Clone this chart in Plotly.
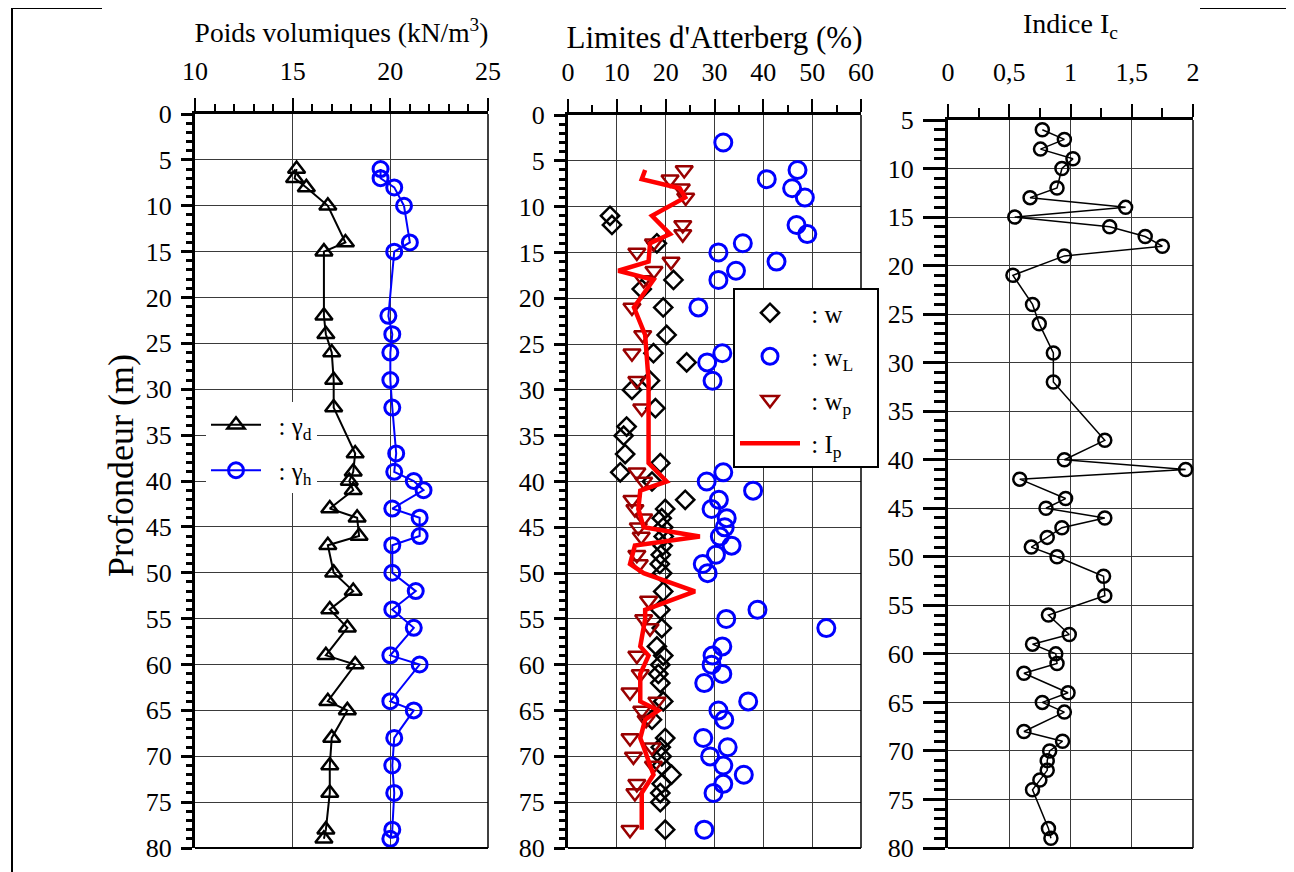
import plotly.graph_objects as go

# ---------------- data ----------------
gamma_depth = [6, 7, 8, 10, 14, 15, 22, 24, 26, 29, 32, 37, 39, 40, 41, 43, 44, 46, 47, 50,
               52, 54, 56, 59, 60, 64, 65, 68, 71, 74, 78, 79]
gamma_d = [15.2, 15.1, 15.7, 16.8, 17.7, 16.6, 16.6, 16.7, 17.0, 17.1, 17.1, 18.2, 18.1, 17.9,
           18.1, 16.9, 18.3, 18.4, 16.8, 17.1, 18.1, 16.9, 17.8, 16.7, 18.2, 16.8, 17.8, 17.0,
           16.9, 16.9, 16.7, 16.6]
gamma_h = [19.5, 19.5, 20.2, 20.7, 21.0, 20.2, 19.9, 20.1, 20.0, 20.0, 20.1, 20.3, 20.2, 21.2,
           21.7, 20.1, 21.5, 21.5, 20.1, 20.1, 21.3, 20.1, 21.2, 20.0, 21.5, 20.0, 21.2, 20.2,
           20.1, 20.2, 20.1, 20.0]

w_depth = [11, 12, 14, 18, 19, 21, 24, 26, 27, 29, 30, 32, 34, 35, 37, 38, 39, 40, 42, 43,
           44, 45, 46, 47, 48, 49, 50, 52, 54, 56, 58, 59, 60, 61, 62, 64, 66, 68, 69, 70,
           71, 72, 73, 74, 75, 78]
w = [8.6, 9.0, 18.2, 21.6, 15.1, 19.5, 20.2, 17.5, 24.3, 16.8, 13.1, 17.9, 12.0, 11.4, 11.7,
     18.9, 10.7, 17.2, 24.0, 19.9, 19.2, 19.5, 19.6, 19.4, 19.0, 18.8, 19.3, 19.5, 18.9, 19.2,
     18.2, 19.5, 18.9, 18.5, 18.9, 19.5, 17.2, 19.9, 19.0, 19.2, 19.2, 21.2, 19.2, 18.9, 18.9,
     19.9]

wL_depth = [3, 6, 7, 8, 9, 12, 13, 14, 15, 16, 17, 18, 21, 26, 27, 29, 39, 40, 41, 42,
            43, 44, 45, 46, 47, 48, 49, 50, 54, 55, 56, 58, 59, 60, 61, 62, 64, 65, 66, 68,
            69, 70, 71, 72, 73, 74, 78]
wL = [31.8, 47.0, 40.7, 45.9, 48.5, 46.8, 49.0, 35.8, 30.8, 42.7, 34.4, 30.8, 26.7, 31.6, 28.5,
      29.6, 31.8, 28.4, 37.9, 30.9, 29.4, 32.5, 32.1, 31.1, 33.5, 30.3, 27.6, 28.6, 38.8, 32.4,
      52.9, 31.6, 29.6, 29.4, 31.6, 27.9, 36.9, 30.8, 32.0, 27.7, 32.7, 29.1, 31.8, 36.0, 31.8,
      29.8, 27.9]

wp_depth = [6, 7, 8, 9, 12, 13, 14, 15, 16, 17, 18, 21, 24, 26, 29, 32, 39, 40, 42, 43,
            44, 45, 46, 48, 49, 53, 55, 56, 59, 61, 63, 64, 65, 66, 68, 69, 70, 71, 73, 74, 78]
wp = [23.8, 20.9, 23.2, 24.1, 23.5, 23.5, 17.5, 14.1, 21.1, 17.6, 15.5, 13.1, 15.3, 13.1, 14.1,
      15.1, 14.1, 15.5, 13.1, 13.7, 15.5, 14.4, 15.0, 14.1, 14.6, 16.5, 15.5, 16.8, 14.1, 14.8,
      12.7, 18.2, 15.1, 16.0, 12.7, 17.2, 13.4, 17.5, 14.1, 13.7, 12.7]

Ip_depth = [6, 7, 8, 9, 11, 13, 14, 16, 17, 18, 21, 24, 29, 38, 40, 41, 43, 45, 46, 47,
            49, 50, 52, 54, 55, 58, 59, 61, 64, 65, 66, 68, 69, 72, 74, 78]
Ip = [15.8, 15.1, 22.9, 24.0, 17.2, 20.9, 16.8, 16.5, 10.3, 17.5, 13.5, 15.8, 16.5, 16.5, 20.2,
      14.8, 14.4, 15.5, 27.0, 13.7, 12.7, 15.5, 26.0, 15.8, 15.8, 14.8, 16.5, 14.8, 14.8, 18.5,
      15.8, 14.8, 15.5, 17.5, 15.1, 15.1]

Ic_depth = [6, 7, 8, 9, 10, 12, 13, 14, 15, 16, 17, 18, 19, 21, 24, 26, 29, 32, 38, 40,
            41, 42, 44, 45, 46, 47, 48, 49, 50, 52, 54, 56, 58, 59, 60, 61, 62, 64, 65, 66,
            68, 69, 70, 71, 72, 73, 74, 78, 79]
Ic = [0.77, 0.95, 0.755, 1.02, 0.93, 0.89, 0.67, 1.45, 0.545, 1.32, 1.61, 1.75, 0.95, 0.53,
      0.69, 0.745, 0.86, 0.86, 1.28, 0.95, 1.94, 0.586, 0.96, 0.80, 1.28, 0.93, 0.81, 0.68,
      0.89, 1.27, 1.28, 0.82, 0.99, 0.69, 0.88, 0.89, 0.62, 0.98, 0.77, 0.95, 0.62, 0.935,
      0.83, 0.81, 0.81, 0.75, 0.69, 0.82, 0.84]

ic_tickvals = [0, 0.5, 1, 1.5, 2]
ic_ticktext = ["0", "0,5", "1", "1,5", "2"]

# ---------------- layout helpers ----------------
W, H = 1294, 872
FONT = "Liberation Serif, Times New Roman, serif"
NB = "\u00a0"

# page offset compensation (body margin of the html page)
OX, OY = 8, 8


def px_x(p):
    return (p - OX) / W


def px_y(p):
    return 1 - (p - OY) / H


fig = go.Figure()

# left panel
fig.add_trace(go.Scatter(x=gamma_d, y=gamma_depth, mode="lines+markers",
                         name=NB * 2 + ": γ<sub>d</sub>",
                         line=dict(color="black", width=2),
                         marker=dict(symbol="triangle-up-open", size=15, color="black",
                                     line=dict(width=2.5)),
                         xaxis="x", yaxis="y", legend="legend", legendgroup="a", cliponaxis=False))
fig.add_trace(go.Scatter(x=gamma_h, y=gamma_depth, mode="lines+markers",
                         name=NB * 2 + ": γ<sub>h</sub>",
                         line=dict(color="#0000ff", width=2),
                         marker=dict(symbol="circle-open", size=15, color="#0000ff",
                                     line=dict(width=3)),
                         xaxis="x", yaxis="y", legend="legend", legendgroup="b", cliponaxis=False))

# middle panel
fig.add_trace(go.Scatter(x=w, y=w_depth, mode="markers", name=NB + ": w" + NB * 3,
                         marker=dict(symbol="diamond-open", size=14, color="black",
                                     line=dict(width=2.5)),
                         xaxis="x2", yaxis="y2", legend="legend2", legendgroup="c", cliponaxis=False))
fig.add_trace(go.Scatter(x=wL, y=wL_depth, mode="markers", name=NB + ": w<sub>L</sub>" + NB * 3,
                         marker=dict(symbol="circle-open", size=17, color="#0000ff",
                                     line=dict(width=3)),
                         xaxis="x2", yaxis="y2", legend="legend2", legendgroup="d", cliponaxis=False))
fig.add_trace(go.Scatter(x=wp, y=wp_depth, mode="markers", name=NB + ": w<sub>p</sub>" + NB * 3,
                         marker=dict(symbol="triangle-down-open", size=15, color="#990000",
                                     line=dict(width=2.5)),
                         xaxis="x2", yaxis="y2", legend="legend2", legendgroup="e", cliponaxis=False))
fig.add_trace(go.Scatter(x=Ip, y=Ip_depth, mode="lines", name=NB + ": I<sub>p</sub>" + NB * 3,
                         line=dict(color="#ff0000", width=4.5),
                         xaxis="x2", yaxis="y2", legend="legend2", legendgroup="f", cliponaxis=False))

# right panel
fig.add_trace(go.Scatter(x=Ic, y=Ic_depth, mode="lines+markers", name="Ic", showlegend=False,
                         line=dict(color="black", width=1.5),
                         marker=dict(symbol="circle-open", size=13, color="black",
                                     line=dict(width=2.5)),
                         xaxis="x3", yaxis="y3", cliponaxis=False))

tickfont = dict(family=FONT, size=26, color="black")
grid = dict(showgrid=True, gridcolor="#3a3a3a", gridwidth=1)

common_x = dict(side="top", showline=True, linecolor="black", linewidth=3, ticks="outside",
                tickcolor="black", tickwidth=2, ticklen=13, tickfont=tickfont, zeroline=False,
                automargin=False, **grid)
common_y = dict(showline=True, linecolor="black", linewidth=3, ticks="outside",
                tickcolor="black", tickwidth=2.5, ticklen=11, tickfont=tickfont, zeroline=False,
                ticklabelstandoff=4, dtick=5, automargin=False, **grid,
                minor=dict(dtick=1, ticks="outside", ticklen=6, tickwidth=2.5, tickcolor="black",
                           showgrid=False))

y_bot = px_y(848)

fig.update_layout(
    template="none",
    width=W, height=H, autosize=False,
    margin=dict(l=0, r=0, t=0, b=0, autoexpand=False),
    paper_bgcolor="white", plot_bgcolor="white",
    font=dict(family=FONT, color="black"),
    xaxis=dict(domain=[px_x(195), px_x(488)], range=[10, 25], dtick=5, anchor="y",
               ticklabelstandoff=8,
               title=dict(text="Poids volumiques (kN/m<sup>3</sup>)", standoff=6,
                          font=dict(family=FONT, size=27.5)),
               minor=dict(dtick=1, ticks="outside", ticklen=7, tickwidth=2, tickcolor="black",
                          showgrid=False),
               **common_x),
    yaxis=dict(domain=[y_bot, px_y(114)], range=[80, 0], anchor="x", **common_y),
    xaxis2=dict(domain=[px_x(568), px_x(861)], range=[0, 60], dtick=10, anchor="y2",
                ticklabelstandoff=8,
                title=dict(text="Limites d'Atterberg (%)", standoff=0,
                           font=dict(family=FONT, size=31)),
                minor=dict(dtick=5, ticks="outside", ticklen=7, tickwidth=2, tickcolor="black",
                           showgrid=False),
                **common_x),
    yaxis2=dict(domain=[y_bot, px_y(115)], range=[80, 0], anchor="x2", **common_y),
    xaxis3=dict(domain=[px_x(948), px_x(1193)], range=[0, 2], tickvals=ic_tickvals,
                ticktext=ic_ticktext, anchor="y3", ticklabelstandoff=13,
                title=dict(text="Indice I<sub>c</sub>", standoff=16,
                           font=dict(family=FONT, size=28)),
                minor=dict(tickvals=[0.25, 0.75, 1.25, 1.75], ticks="outside", ticklen=9,
                           tickwidth=2, tickcolor="black", showgrid=False),
                **common_x),
    yaxis3=dict(domain=[y_bot, px_y(120)], range=[80, 5], anchor="x3",
                **{**common_y, "ticklen": 22,
                   "minor": dict(dtick=1, ticks="outside", ticklen=11, tickwidth=2.5,
                                 tickcolor="black", showgrid=False)},
                tick0=5),
    legend=dict(x=px_x(206), y=px_y(402), xanchor="left", yanchor="top",
                bgcolor="white", borderwidth=0, font=dict(family=FONT, size=25),
                tracegroupgap=10, itemwidth=50),
    legend2=dict(x=px_x(733), y=px_y(288), xanchor="left", yanchor="top",
                 bgcolor="white", bordercolor="black", borderwidth=2,
                 font=dict(family=FONT, size=25), tracegroupgap=8, itemwidth=60),
    annotations=[dict(text="Profondeur (m)", xref="paper", yref="paper",
                      x=px_x(121), y=px_y(465), textangle=-90, showarrow=False,
                      xanchor="center", yanchor="middle",
                      font=dict(family=FONT, size=36, color="black"))],
)

# thinner right/bottom frame of each panel
for xr, yr in [("x", "y"), ("x2", "y2"), ("x3", "y3")]:
    fig.add_shape(type="line", xref=f"{xr} domain", yref=f"{yr} domain", x0=1, x1=1, y0=0, y1=1,
                  line=dict(color="black", width=1.5))
    fig.add_shape(type="line", xref=f"{xr} domain", yref=f"{yr} domain", x0=0, x1=1, y0=0, y1=0,
                  line=dict(color="black", width=2))

# outer page frame fragments
frame = dict(color="black", width=2)
fig.add_shape(type="line", xref="paper", yref="paper", x0=px_x(12), x1=px_x(102),
              y0=px_y(8), y1=px_y(8), line=frame)
fig.add_shape(type="line", xref="paper", yref="paper", x0=px_x(12), x1=px_x(12),
              y0=px_y(8), y1=0, line=frame)
fig.add_shape(type="line", xref="paper", yref="paper", x0=px_x(1200), x1=px_x(1292),
              y0=px_y(8), y1=px_y(8), line=frame)
fig.add_shape(type="line", xref="paper", yref="paper", x0=px_x(1292), x1=px_x(1292),
              y0=px_y(8), y1=0, line=frame)

fig.write_html("out.html")
